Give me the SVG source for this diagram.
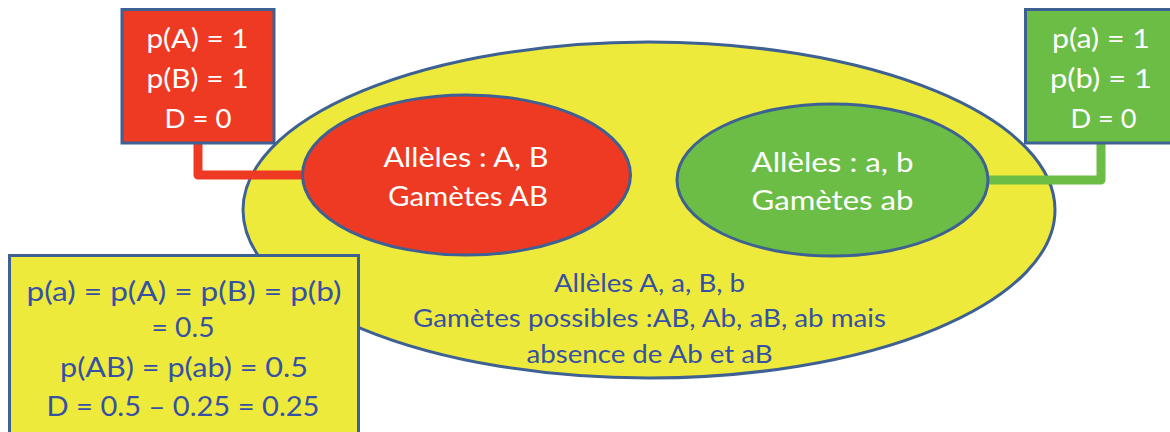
<svg xmlns="http://www.w3.org/2000/svg" width="1170" height="432" viewBox="0 0 1170 432">
<style>
.bord{stroke:#3E6194;stroke-width:3}
.red{fill:#EE3A23}
.green{fill:#6BBD45}
.yellow{fill:#EEEA3B}
text{font-family:Lato,"Open Sans","Liberation Sans",sans-serif;text-anchor:middle}
.w{fill:#FFFFFF}
.b{fill:#3651A3}
.conn{fill:none;stroke-width:9;stroke-linejoin:round}
</style>
<rect width="1170" height="432" fill="#FFFFFF"/>
<g id="population">
<ellipse class="yellow bord" cx="649" cy="210" rx="406" ry="168"/>
<text class="b" font-size="25.5" x="649.5" y="291.7" textLength="191" lengthAdjust="spacingAndGlyphs">Allèles A, a, B, b</text>
<text class="b" font-size="25.5" x="649.5" y="327.3" textLength="473" lengthAdjust="spacingAndGlyphs">Gamètes possibles :AB, Ab, aB, ab mais</text>
<text class="b" font-size="25.5" x="649.5" y="362.7" textLength="246" lengthAdjust="spacingAndGlyphs">absence de Ab et aB</text>
</g>
<g id="connectors">
<polyline class="conn" stroke="#EE3A23" points="198,140 198,175 312,175"/>
<polyline class="conn" stroke="#6BBD45" points="1101,140 1101,180 980,180"/>
</g>
<g id="red-ellipse">
<ellipse class="red bord" cx="466.5" cy="175" rx="164" ry="80"/>
<text class="w" font-size="27" x="466" y="166.5" textLength="165" lengthAdjust="spacingAndGlyphs">Allèles : A, B</text>
<text class="w" font-size="27" x="468" y="206" textLength="160" lengthAdjust="spacingAndGlyphs">Gamètes AB</text>
</g>
<g id="green-ellipse">
<ellipse class="green bord" cx="832.5" cy="180" rx="155.5" ry="76"/>
<text class="w" font-size="27" x="832.5" y="171.7" textLength="162" lengthAdjust="spacingAndGlyphs">Allèles : a, b</text>
<text class="w" font-size="27" x="832.5" y="210" textLength="162" lengthAdjust="spacingAndGlyphs">Gamètes ab</text>
</g>
<g id="red-box">
<rect class="red bord" x="122" y="9.5" width="152" height="133.5"/>
<text class="w" font-size="26.5" x="197.5" y="48" textLength="102" lengthAdjust="spacingAndGlyphs">p(A) = 1</text>
<text class="w" font-size="26.5" x="197.5" y="87.5" textLength="102" lengthAdjust="spacingAndGlyphs">p(B) = 1</text>
<text class="w" font-size="26.5" x="198" y="127.5" textLength="67" lengthAdjust="spacingAndGlyphs">D = 0</text>
</g>
<g id="green-box">
<rect class="green bord" x="1025.5" y="9.5" width="153" height="133.5"/>
<text class="w" font-size="26.5" x="1101" y="48" textLength="98" lengthAdjust="spacingAndGlyphs">p(a) = 1</text>
<text class="w" font-size="26.5" x="1101" y="87.5" textLength="102" lengthAdjust="spacingAndGlyphs">p(b) = 1</text>
<text class="w" font-size="26.5" x="1103.5" y="127.5" textLength="66" lengthAdjust="spacingAndGlyphs">D = 0</text>
</g>
<g id="yellow-box">
<rect class="yellow bord" x="9.5" y="255.5" width="349" height="190"/>
<text class="b" font-size="27" x="184" y="300.5" textLength="315" lengthAdjust="spacingAndGlyphs">p(a) = p(A) = p(B) = p(b)</text>
<text class="b" font-size="27" x="183" y="336.7" textLength="63" lengthAdjust="spacingAndGlyphs">= 0.5</text>
<text class="b" font-size="27" x="184" y="376.7" textLength="248" lengthAdjust="spacingAndGlyphs">p(AB) = p(ab) = 0.5</text>
<text class="b" font-size="27" x="183" y="416" textLength="273" lengthAdjust="spacingAndGlyphs">D = 0.5 – 0.25 = 0.25</text>
</g>
</svg>
